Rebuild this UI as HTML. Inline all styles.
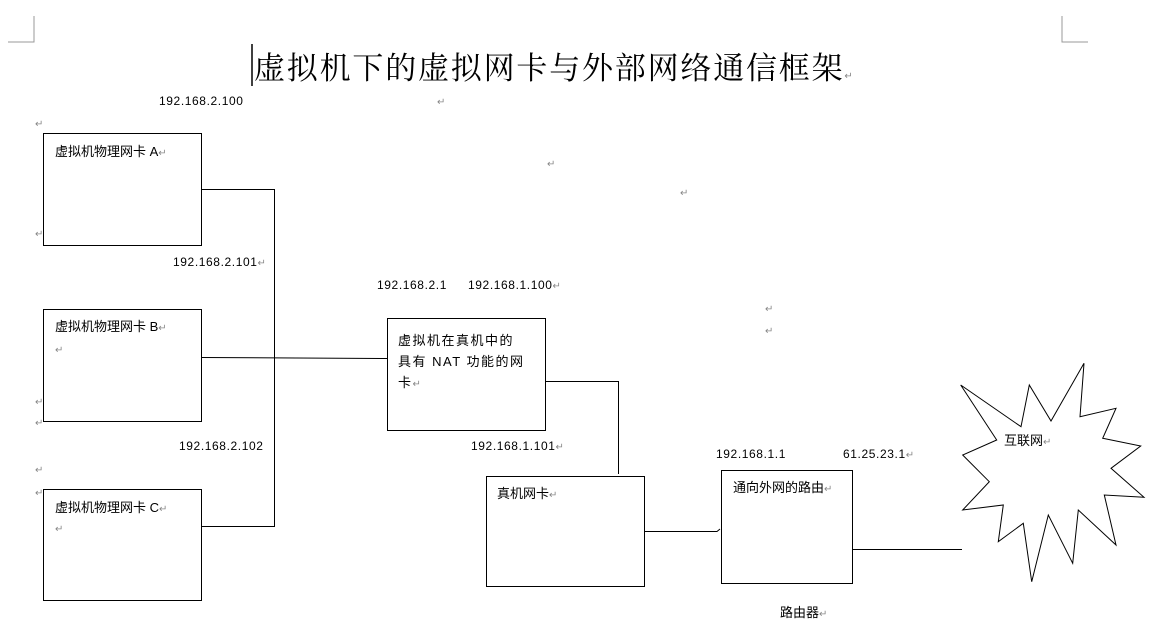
<!DOCTYPE html>
<html><head><meta charset="utf-8"><style>
body{margin:0;width:1160px;height:624px;background:#fff;position:relative;overflow:hidden;font-family:"Liberation Sans","Noto Sans CJK SC",sans-serif;color:#000}
.t{position:absolute;font-size:13px;white-space:nowrap;line-height:16px}
.ip{font-size:12px;letter-spacing:0.6px}
.r{color:#888;font-size:10px;letter-spacing:0}
</style></head><body>
<svg width="1160" height="624" style="position:absolute;left:0;top:0">
<g stroke="#999" fill="none"><path d="M8 42H34V16"/><path d="M1062 16V42H1088"/></g>
<g stroke="#000" fill="#fff" stroke-width="1">
<rect x="43.5" y="133.5" width="158" height="112"/>
<rect x="43.5" y="309.5" width="158" height="112"/>
<rect x="43.5" y="489.5" width="158" height="111"/>
<rect x="387.5" y="318.5" width="158" height="112"/>
<rect x="486.5" y="476.5" width="158" height="110"/>
<rect x="721.5" y="470.5" width="131" height="113"/>
<polyline fill="none" points="202,189.5 274.5,189.5 274.5,526.5 202,526.5"/>
<polyline fill="none" points="202,357.5 387,358.5"/>
<polyline fill="none" points="546,381.5 618.5,381.5 618.5,474"/>
<polyline fill="none" points="645,531.5 717,531.5 720,529"/>
<polyline fill="none" points="853,549.5 962,549.5"/>
<polygon points="960.7,385 1021,426.7 1029.3,385 1051,421 1084,363.3 1080,416.7 1116,408.3 1102.7,438.3 1140.7,446 1111,468.3 1144,497.3 1104.3,495 1116,545 1078.3,510 1072.7,563.3 1048.3,515 1031.7,581.7 1023.3,523.3 998.3,541.7 1003.3,505 962.7,510 989.3,481.7 962.7,455 996.7,440"/>
</g>
<line x1="252" y1="44" x2="252" y2="86" stroke="#000" stroke-width="1.5"/>
</svg>
<div class="t" style="left:254px;top:48px;font-size:31px;letter-spacing:1.8px;line-height:36px;font-family:'Noto Serif CJK SC','Noto Sans CJK SC',serif">虚拟机下的虚拟网卡与外部网络通信框架<span class="r">↵</span></div>
<div class="t ip" style="left:159px;top:93px">192.168.2.100</div>
<div class="t r" style="left:437px;top:95px">↵</div>
<div class="t r" style="left:35px;top:117px">↵</div>
<div class="t r" style="left:35px;top:227px">↵</div>
<div class="t r" style="left:547px;top:157px">↵</div>
<div class="t r" style="left:680px;top:186px">↵</div>
<div class="t r" style="left:765px;top:302px">↵</div>
<div class="t r" style="left:765px;top:324px">↵</div>
<div class="t r" style="left:35px;top:395px">↵</div>
<div class="t r" style="left:35px;top:416px">↵</div>
<div class="t r" style="left:35px;top:463px">↵</div>
<div class="t r" style="left:35px;top:486px">↵</div>
<div class="t" style="left:55px;top:144px">虚拟机物理网卡 A<span class="r">↵</span></div>
<div class="t" style="left:55px;top:319px">虚拟机物理网卡 B<span class="r">↵</span></div>
<div class="t r" style="left:55px;top:343px">↵</div>
<div class="t" style="left:55px;top:500px">虚拟机物理网卡 C<span class="r">↵</span></div>
<div class="t r" style="left:55px;top:522px">↵</div>
<div class="t ip" style="left:173px;top:254px">192.168.2.101<span class="r">↵</span></div>
<div class="t ip" style="left:179px;top:438px">192.168.2.102</div>
<div class="t ip" style="left:377px;top:277px">192.168.2.1</div>
<div class="t ip" style="left:468px;top:277px">192.168.1.100<span class="r">↵</span></div>
<div class="t" style="left:398px;top:330px;line-height:21px;letter-spacing:1.5px">虚拟机在真机中的<br>具有 NAT 功能的网<br>卡<span class="r">↵</span></div>
<div class="t ip" style="left:471px;top:438px">192.168.1.101<span class="r">↵</span></div>
<div class="t" style="left:497px;top:486px">真机网卡<span class="r">↵</span></div>
<div class="t ip" style="left:716px;top:446px">192.168.1.1</div>
<div class="t ip" style="left:843px;top:446px">61.25.23.1<span class="r">↵</span></div>
<div class="t" style="left:733px;top:480px">通向外网的路由<span class="r">↵</span></div>
<div class="t" style="left:1004px;top:433px">互联网<span class="r">↵</span></div>
<div class="t" style="left:780px;top:605px">路由器<span class="r">↵</span></div>
</body></html>
